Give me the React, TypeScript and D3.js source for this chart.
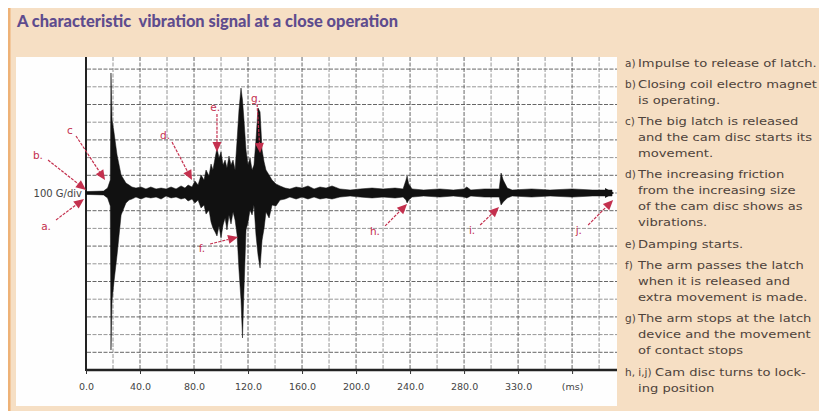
import React, { useEffect, useRef } from 'react';
import * as d3 from 'd3';

// envelope of the vibration trace (ms, G)
const times = [0, 13, 16, 18, 18.5, 19.3, 20.7, 23, 26, 29.6, 31.9, 34, 37, 40.7, 44.4, 48, 51.9, 55.6, 59.3, 63, 66.7, 70.4, 73.3, 75.6, 78.5, 80.7, 83, 85.2, 87.4, 88.9, 91.1, 92.6, 94, 95.6, 97, 98.5, 100, 101.5, 103, 104.4, 105.9, 107.4, 108.9, 110.4, 111.9, 113.3, 114.8, 115.9, 117, 118.5, 120, 121.5, 123, 124.4, 125.9, 127.4, 128.9, 130.4, 131.9, 133.3, 135.6, 137.8, 140.7, 143.7, 147.4, 151, 155.6, 160, 164.4, 168.9, 173.3, 177.8, 182.2, 188, 195.6, 203, 211.9, 220, 228.9, 234.8, 237, 237.8, 239, 241.5, 250, 262, 272, 280, 282, 285, 295, 306, 307.4, 309, 312, 315.6, 330, 343.7, 360, 375, 389.6];
const upper = [8, 11, 28, 73, 678, 412, 345, 215, 102, 56, 45, 34, 28, 34, 23, 34, 23, 28, 23, 34, 23, 40, 28, 45, 34, 68, 45, 102, 73, 130, 96, 164, 130, 198, 254, 198, 232, 158, 186, 141, 209, 158, 186, 130, 299, 469, 593, 525, 412, 243, 158, 198, 130, 158, 299, 480, 458, 243, 175, 130, 102, 73, 51, 40, 28, 23, 34, 28, 40, 23, 34, 28, 40, 23, 17, 23, 28, 23, 28, 23, 73, 96, 51, 23, 17, 23, 17, 23, 34, 17, 23, 23, 113, 73, 28, 17, 23, 17, 23, 17, 17];
const lower = [-8, -11, -28, -73, -887, -605, -503, -350, -124, -56, -40, -34, -23, -34, -23, -28, -23, -34, -17, -28, -23, -34, -28, -45, -34, -56, -40, -85, -68, -119, -96, -164, -198, -220, -243, -186, -254, -181, -141, -209, -124, -175, -107, -153, -237, -435, -605, -819, -548, -209, -164, -96, -124, -68, -237, -350, -424, -266, -198, -107, -141, -68, -73, -40, -34, -23, -34, -23, -34, -23, -34, -28, -34, -23, -17, -23, -28, -23, -28, -23, -40, -56, -40, -23, -17, -23, -17, -23, -28, -17, -23, -23, -68, -51, -28, -17, -23, -17, -23, -17, -17];

const tickValues = [0, 40, 80, 120, 160, 200, 240, 280, 320, 360];
const tickLabels = ['0.0', '40.0', '80.0', '120.0', '160.0', '200.0', '240.0', '280.0', '330.0', '(ms)'];

// annotation arrows: label, label point, tail, tip (ms, G)
const markLetters = ['a.', 'b.', 'c', 'd.', 'e.', 'g.', 'f.', 'h.', 'i.', 'j.'];
const markLabelAt = [[-29.6, -186], [-35.6, 215], [-11.9, 356], [58.5, 328], [95.6, 486], [125.9, 537], [85.9, -311], [214, -215], [285.9, -209], [365, -209]];
const markTail = [[-22.2, -152], [-28.1, 186], [-7.4, 322], [63.7, 288], [97, 446], [126.7, 503], [91.9, -288], [221.5, -186], [291.9, -181], [371.9, -181]];
const markTip = [[-1.5, -34], [0, 17], [14.1, 73], [78.5, 73], [97, 232], [128.9, 226], [112.6, -249], [237.8, -62], [305.9, -79], [390.4, -40]];

const noteKeys = ['a)', 'b)', 'c)', 'd)', 'e)', 'f)', 'g)', 'h, i,j)'];
const noteLines = [
  ['Impulse to release of latch.'],
  ['Closing coil electro magnet', 'is operating.'],
  ['The big latch is released', 'and the cam disc starts its', 'movement.'],
  ['The increasing friction', 'from the increasing size', 'of the cam disc shows as', 'vibrations.'],
  ['Damping starts.'],
  ['The arm passes the latch', 'when it is released and', 'extra movement is made.'],
  ['The arm stops at the latch', 'device and the movement', 'of contact stops'],
  ['Cam disc turns to lock-', 'ing position'],
];

const W = 819;
const H = 412;

export default function App() {
  const ref = useRef<SVGSVGElement>(null);

  useEffect(() => {
    const svg = d3.select(ref.current);
    svg.selectAll('*').remove();

    const x = d3.scaleLinear().domain([0, 394]).range([86, 618]);
    const y = d3.scaleLinear().domain([-1000, 800]).range([370, 51.4]);

    // frame
    svg.append('rect').attr('width', W).attr('height', H).attr('fill', '#ffffff');
    svg.append('rect').attr('x', 8).attr('y', 8).attr('width', W - 8).attr('height', 403).attr('fill', '#f6dfc4');
    svg.append('rect').attr('x', 8).attr('y', 8).attr('width', 2.5).attr('height', 403).attr('fill', '#eeb277');
    svg.append('rect').attr('x', 16).attr('y', 57).attr('width', 601).attr('height', 349).attr('fill', '#fefefe');

    svg
      .append('text')
      .attr('x', 17)
      .attr('y', 27)
      .attr('textLength', 381)
      .attr('lengthAdjust', 'spacingAndGlyphs')
      .style('white-space', 'pre')
      .attr('font-family', 'Lato, "DejaVu Sans", sans-serif')
      .attr('font-weight', 900)
      .attr('font-size', 17)
      .attr('fill', '#5e4c8e')
      .text('A characteristic  vibration signal at a close operation');

    // grid
    const grid = svg.append('g');
    d3.range(-900, 800, 100).forEach((g, i) => {
      grid
        .append('line')
        .attr('x1', 87)
        .attr('x2', 617)
        .attr('y1', y(g))
        .attr('y2', y(g))
        .attr('stroke', i % 2 === 0 ? '#555' : '#8a8a8a')
        .attr('stroke-width', 0.9)
        .attr('stroke-dasharray', '4,1.5');
    });
    d3.range(20, 394, 20).forEach((t, i) => {
      grid
        .append('line')
        .attr('x1', x(t))
        .attr('x2', x(t))
        .attr('y1', 57)
        .attr('y2', 370)
        .attr('stroke', i % 2 === 1 ? '#555' : '#8a8a8a')
        .attr('stroke-width', 0.9)
        .attr('stroke-dasharray', '4,1.5');
    });

    // axes
    svg.append('line').attr('x1', x(0)).attr('x2', x(0)).attr('y1', 57).attr('y2', 371).attr('stroke', '#222').attr('stroke-width', 2);
    const xAxis = svg
      .append('g')
      .attr('transform', `translate(0,${y(-1000)})`)
      .call(
        d3
          .axisBottom(x)
          .tickValues(tickValues)
          .tickFormat((d, i) => tickLabels[i])
          .tickSize(4)
          .tickPadding(9)
      );
    xAxis.select('.domain').attr('d', `M${x(0)},0H617`).attr('stroke', '#222').attr('stroke-width', 2.5);
    xAxis.selectAll('line').attr('stroke', '#333');
    xAxis
      .selectAll('text')
      .attr('font-family', '"DejaVu Sans", sans-serif')
      .attr('font-size', 9.5)
      .attr('fill', '#444');

    svg
      .append('text')
      .attr('x', 82)
      .attr('y', y(0) + 3.5)
      .attr('text-anchor', 'end')
      .attr('font-family', '"DejaVu Sans", sans-serif')
      .attr('font-size', 10)
      .attr('fill', '#444')
      .text('100 G/div');

    // trace
    const idx = d3.range(times.length);
    const area = d3
      .area<number>()
      .x((i) => x(times[i]))
      .y0((i) => y(lower[i]))
      .y1((i) => y(upper[i]));
    svg.append('path').datum(idx).attr('d', area).attr('fill', '#111').attr('stroke', '#111').attr('stroke-width', 0.5);
    const xe = x(times[times.length - 1]);
    svg
      .append('path')
      .attr('d', `M${xe - 7},${y(0) - 5}L${xe + 2},${y(0)}L${xe - 7},${y(0) + 5}Z`)
      .attr('fill', '#111');

    // annotations
    const red = '#c4304e';
    const ann = svg.append('g');
    markLetters.forEach((letter, i) => {
      const [tx, ty] = markTail[i];
      const [px, py] = markTip[i];
      const x1 = x(tx), y1 = y(ty), x2 = x(px), y2 = y(py);
      const ang = Math.atan2(y2 - y1, x2 - x1);
      const len = 10;
      const bx = x2 - len * Math.cos(ang);
      const by = y2 - len * Math.sin(ang);
      ann
        .append('line')
        .attr('x1', x1)
        .attr('y1', y1)
        .attr('x2', bx)
        .attr('y2', by)
        .attr('stroke', red)
        .attr('stroke-width', 1.2)
        .attr('stroke-dasharray', '3,1.2');
      const nx = -Math.sin(ang) * 4.5;
      const ny = Math.cos(ang) * 4.5;
      ann
        .append('path')
        .attr('d', `M${x2},${y2}L${bx + nx},${by + ny}L${bx - nx},${by - ny}Z`)
        .attr('fill', red);
      ann
        .append('text')
        .attr('x', x(markLabelAt[i][0]))
        .attr('y', y(markLabelAt[i][1]) + 4)
        .attr('text-anchor', 'middle')
        .attr('font-family', '"DejaVu Sans", sans-serif')
        .attr('font-size', 10.5)
        .attr('fill', red)
        .text(letter);
    });

    // notes
    const notes = svg.append('g').attr('font-family', '"DejaVu Sans", sans-serif').attr('font-size', 10.5).attr('fill', '#4e433b');
    let cy = 63;
    noteKeys.forEach((key, i) => {
      if (i > 0) cy += 21.3;
      const wide = key.length > 3;
      notes.append('text').attr('x', 625).attr('y', cy + 3.5).text(key);
      noteLines[i].forEach((line, j) => {
        if (j > 0) cy += 16;
        notes
          .append('text')
          .attr('transform', `translate(${j === 0 && wide ? 655 : 638},${cy + 3.5}) scale(1.25,1)`)
          .text(line);
      });
    });
  }, []);

  return (
    <svg
      ref={ref}
      width={W}
      height={H}
      style={{ position: 'absolute', left: 0, top: 0, display: 'block' }}
    />
  );
}
